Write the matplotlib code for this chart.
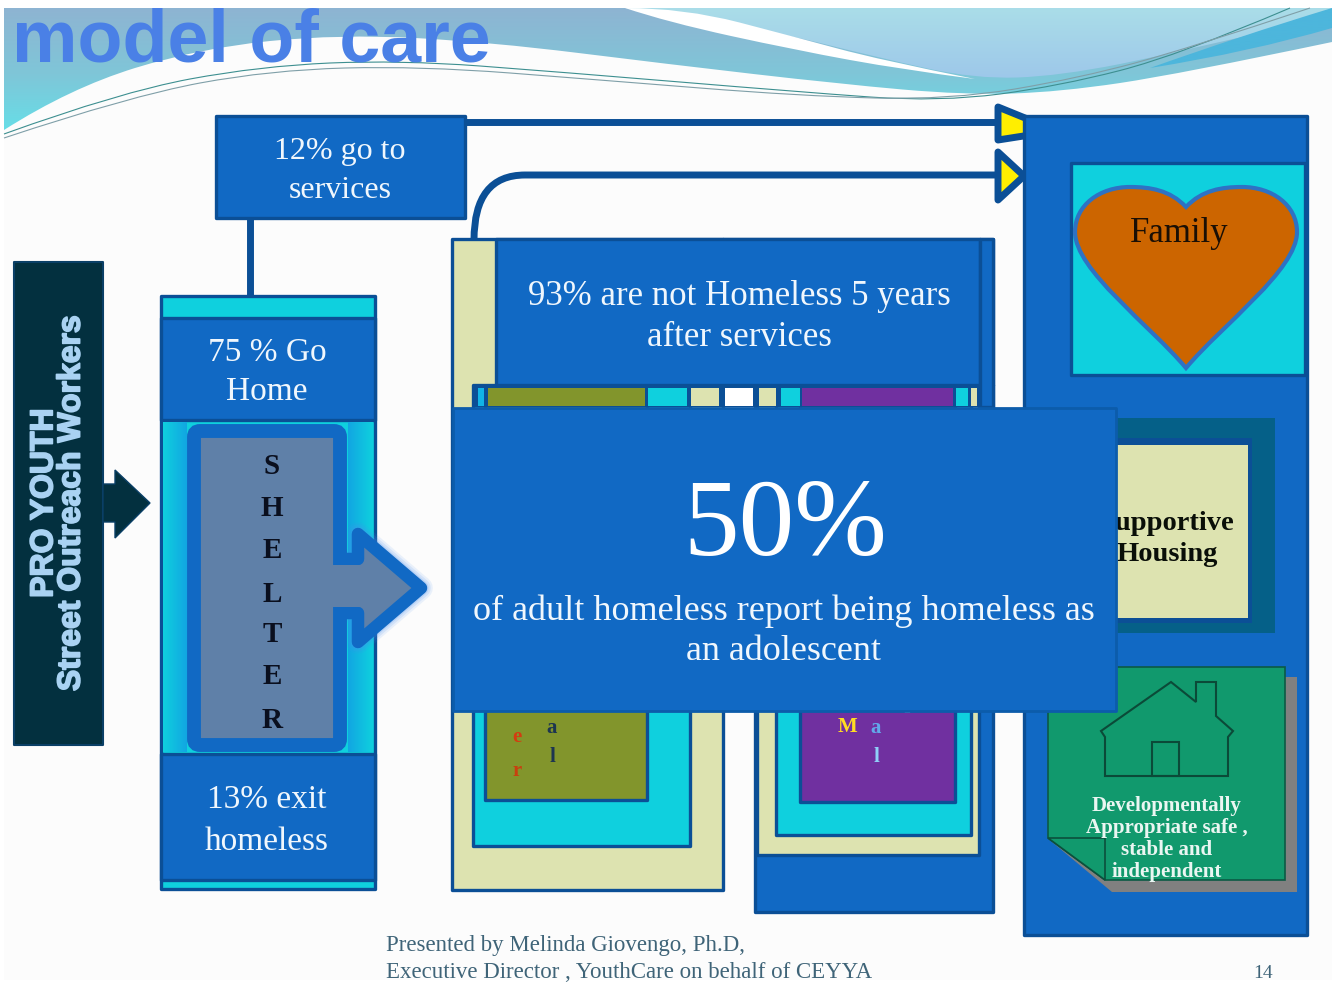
import numpy as np
import matplotlib
matplotlib.use('Agg')
import matplotlib.pyplot as plt
import matplotlib.patheffects as pe
from matplotlib.colors import LinearSegmentedColormap
from matplotlib.patches import Rectangle, Polygon, PathPatch, FancyBboxPatch
from matplotlib.path import Path

# slide text
title = "model of care"
side_label = "PRO YOUTH\nStreet Outreach Workers"
services_label = "12% go to\nservices"
go_home_label = "75 % Go\nHome"
exit_label = "13% exit\nhomeless"
shelter_letters = ["S", "H", "E", "L", "T", "E", "R"]
not_homeless_label = "93% are not Homeless 5 years\nafter services"
big_number = "50%"
big_caption = "of adult homeless report being homeless as\nan adolescent"
family_label = "Family"
supportive_label = "Supportive\nHousing"
note_label = ["Developmentally", "Appropriate safe ,", "stable and", "independent"]
footer = ["Presented by Melinda Giovengo, Ph.D,",
          "Executive Director , YouthCare on behalf of CEYYA"]
page_number = "14"

SERIF = 'Liberation Serif'
SANS = 'Liberation Sans'
BLUE = '#1169c4'
EDGE = '#0b4f96'
CYAN = '#0fd0de'
PALE = '#dde3b0'
OLIVE = '#82952c'
PURPLE = '#7030a0'
WHITE_TXT = '#f0f7fd'

W, H = 1334, 982
fig = plt.figure(figsize=(W / 100, H / 100), dpi=100, facecolor='white')
ax = fig.add_axes([0, 0, 1, 1])
ax.set_axis_off()


def box(x0, y0, x1, y1, fc, ec=EDGE, lw=2.4, z=2):
    r = Rectangle((x0, y0), x1 - x0, y1 - y0, fc=fc, ec=ec, lw=lw, zorder=z,
                  joinstyle='round')
    ax.add_patch(r)
    return r


def smooth(pts):
    # quadratic spline through the midpoints of the control polygon
    verts = [pts[0]]
    codes = [Path.MOVETO]
    for i in range(1, len(pts) - 1):
        mid = ((pts[i][0] + pts[i + 1][0]) / 2, (pts[i][1] + pts[i + 1][1]) / 2)
        if i == len(pts) - 2:
            mid = pts[-1]
        verts += [pts[i], mid]
        codes += [Path.CURVE3, Path.CURVE3]
    return verts, codes


def band(top, bottom, colors, z=1):
    # closed shape between two curves, filled with a vertical gradient
    v1, c1 = smooth(top)
    v2, c2 = smooth(bottom[::-1])
    c2[0] = Path.LINETO
    path = Path(v1 + v2 + [v1[0]], c1 + c2 + [Path.CLOSEPOLY])
    cmap = LinearSegmentedColormap.from_list('g', colors)
    grad = np.linspace(0, 1, 256)[:, None]
    im = ax.imshow(grad, cmap=cmap, extent=(0, W, 140, 8), aspect='auto', zorder=z)
    patch = PathPatch(path, fc='none', ec='none', transform=ax.transData)
    ax.add_patch(patch)
    im.set_clip_path(patch)


def hgrad(x0, y0, x1, y1, c0, c1, z=2.1):
    # rectangle shaded from left to right
    cmap = LinearSegmentedColormap.from_list('h', [c0, c1])
    ax.imshow(np.linspace(0, 1, 64)[None, :], cmap=cmap, extent=(x0, x1, y1, y0),
              aspect='auto', zorder=z)


def label(x, y, s, size, color=WHITE_TXT, family=SERIF, weight='normal', z=5, **kw):
    return ax.text(x, y, s, fontsize=size, color=color, family=family, weight=weight,
                   ha=kw.pop('ha', 'center'), va=kw.pop('va', 'center'), zorder=z, **kw)


# page background
ax.add_patch(Rectangle((4, 8), 1328, 972, fc='#fcfcfc', ec='none', zorder=0))

# wave banner across the top
band([(4, 8), (625, 8), (1332, 8)],
     [(4, 130), (70, 88), (200, 48), (340, 34), (490, 42), (667, 64), (840, 84), (965, 95),
      (1060, 92), (1180, 74), (1332, 42)],
     ['#8eb4d2', '#7fc6d8', '#62e2ea'])
band([(625, 8), (700, 8), (1332, 8)],
     [(625, 8), (760, 28), (880, 58), (975, 79), (1060, 76), (1180, 52), (1332, 16)],
     ['#aadde8', '#9ec9ea', '#8cc0ee'])
band([(1150, 68), (1240, 36), (1332, 8)],
     [(1150, 68), (1250, 52), (1332, 28)],
     ['#4db6dc', '#4db6dc'], z=1.2)
# white streak between the two blue waves
band([(625, 8), (684, 8), (795, 37), (880, 60), (975, 79)],
     [(625, 8), (667, 22), (795, 50), (905, 70), (975, 79)],
     ['#ffffff', '#ffffff'], z=1.4)

for pts, col in [([(4, 134), (120, 92), (260, 66), (400, 60), (560, 72), (800, 92), (940, 102),
                   (1060, 86), (1180, 55), (1290, 8)], '#3d8f90'),
                 ([(4, 138), (130, 96), (270, 70), (420, 66), (600, 80), (800, 96), (950, 100),
                   (1080, 78), (1190, 48), (1310, 8)], '#7f9fa8')]:
    v, c = smooth(pts)
    ax.add_patch(PathPatch(Path(v, c), fc='none', ec=col, lw=0.8, zorder=1.6))

t = label(12, 61, title, 53, color='#4a80e6', family=SANS, weight='bold', ha='left', va='baseline')
t.set_clip_path(Rectangle((0, 8), W, 100, transform=ax.transData))

# street outreach column
box(14, 262, 103, 745, '#03303f', ec='#0a3f66', lw=1.5)
ax.add_patch(Polygon([(103, 484), (115, 484), (115, 470), (150, 503), (115, 538), (115, 522), (103, 522)],
                     fc='#03303f', ec='#0a3f66', lw=1, zorder=2))
side = label(58, 503, side_label, 23, color='#a9d2f2', family=SANS, weight='bold', rotation=90,
             linespacing=0.88, multialignment='center')
side.set_path_effects([pe.withStroke(linewidth=1.2, foreground='#a9d2f2')])

# connectors from the services box
ax.plot([250, 250], [219, 296], color=EDGE, lw=5, solid_capstyle='butt', zorder=1.8)
ax.plot([465, 996], [122, 122], color=EDGE, lw=5, solid_capstyle='butt', zorder=1.8)
ax.add_patch(PathPatch(Path([(474, 240), (474, 175), (525, 175), (996, 175)],
                            [Path.MOVETO, Path.CURVE3, Path.CURVE3, Path.LINETO]),
                       fc='none', ec=EDGE, lw=5, zorder=1.8))
box(216, 116, 465, 218, BLUE)
label(340, 171, services_label, 23, linespacing=1.45)

# arrow heads into the outcomes panel
ax.add_patch(Polygon([(998, 107), (1030, 120), (1030, 135), (998, 140)], fc='#ffee00', ec=EDGE, lw=5,
                     joinstyle='round', zorder=1.9))
ax.add_patch(Polygon([(998, 152), (1024, 176), (998, 200)], fc='#ffee00', ec=EDGE, lw=5,
                     joinstyle='round', zorder=1.9))

# shelter column
box(161, 296, 375, 889, CYAN)
hgrad(163, 422, 187, 752, CYAN, '#12a6e2')
hgrad(348, 422, 373, 752, '#12a6e2', CYAN)
box(161, 318, 375, 420, BLUE)
box(161, 754, 375, 880, BLUE)
label(267, 372, go_home_label, 24, linespacing=1.38)
label(267, 821, exit_label, 24, linespacing=1.5)

# shelter arrow, with a soft glow round the head
head = [(337, 559), (358, 559), (358, 534), (421, 588), (358, 642), (358, 613), (337, 613)]
for lw, alpha in [(17, 0.10), (14, 0.14), (11, 0.2)]:
    ax.add_patch(Polygon(head, fc='none', ec='#4a8ff0', lw=lw, alpha=alpha, joinstyle='round', zorder=2.2))
ax.add_patch(Polygon(head, fc='#5f80a8', ec='#1169c4', lw=9, joinstyle='round', zorder=2.3))
ax.add_patch(FancyBboxPatch((194, 431), 146, 314, boxstyle='round,pad=0,rounding_size=6',
                            fc='#5f80a8', ec='#1169c4', lw=10, zorder=2.4))
ax.add_patch(Rectangle((330, 565), 32, 42, fc='#5f80a8', ec='none', zorder=2.5))
for letter, y in zip(shelter_letters, [466, 509, 551, 594, 634, 677, 720]):
    label(272, y, letter, 21, color='#0a0f1e', weight='bold')

# middle panels
box(452, 239, 723, 890, PALE)
box(723, 239, 993, 385, PALE)
box(473, 385, 690, 846, CYAN)
box(485, 388, 647, 800, OLIVE)
box(755, 385, 993, 912, BLUE)
box(757, 385, 979, 855, PALE)
box(776, 385, 971, 835, CYAN)
box(800, 388, 955, 802, PURPLE)
box(980, 239, 993, 407, BLUE, z=2.5)
box(496, 239, 980, 385, BLUE)
box(474, 385, 978, 407, EDGE, lw=0, z=2.6)
# colour strip under the upper box
for x0, x1, col in [(478, 484, '#11b4e6'), (488, 645, OLIVE), (648, 687, CYAN), (691, 719, PALE),
                    (725, 753, '#ffffff'), (759, 776, PALE), (781, 800, CYAN), (802, 953, PURPLE),
                    (956, 968, CYAN), (971, 977, PALE)]:
    box(x0, 388, x1, 406, col, lw=0, z=2.7)
label(739, 317, not_homeless_label, 25, linespacing=1.34)

# letters on the coloured cards, mostly covered by the centre panel
for x, y, s, col in [(517, 737, 'e', '#d43c10'), (517, 771, 'r', '#c8400f'), (552, 728, 'a', '#1d3550'),
                     (552, 757, 'l', '#1d3550'), (848, 727, 'M', '#ffdd22'), (876, 728, 'a', '#62a8ea'),
                     (876, 757, 'l', '#8fd0f8'), (907, 712, '-', '#e0d8f8')]:
    label(x, y, s, 15, color=col, weight='bold', z=3)

# outcomes panel
box(1024, 116, 1307, 935, BLUE)
box(1071, 163, 1305, 375, CYAN)
heart_v = [(1186, 207),
           (1170, 190), (1150, 187), (1130, 187),
           (1100, 187), (1075, 205), (1075, 232),
           (1075, 270), (1150, 325), (1186, 368),
           (1222, 325), (1297, 270), (1297, 232),
           (1297, 205), (1272, 187), (1242, 187),
           (1222, 187), (1202, 190), (1186, 207),
           (1186, 207)]
heart_c = [Path.MOVETO] + [Path.CURVE4] * 18 + [Path.CLOSEPOLY]
ax.add_patch(PathPatch(Path(heart_v, heart_c), fc='#cc6500', ec='#2e72c4', lw=3, zorder=3))
label(1179, 233, family_label, 25, color='#1a0f05', z=4)

box(1108, 418, 1275, 633, '#056088', ec='#056088', lw=0, z=3)
box(1100, 438, 1252, 623, EDGE, lw=0, z=3)
box(1100, 445, 1248, 618, PALE, lw=0, z=3)
label(1167, 539, supportive_label, 20.5, color='#0a0f08', weight='bold', z=3.2, linespacing=1.34)

# folded note with the house on it
ax.add_patch(Polygon([(1052, 842), (1060, 677), (1297, 677), (1297, 892), (1112, 892)],
                     fc='#808080', ec='none', zorder=3))
ax.add_patch(Polygon([(1048, 667), (1285, 667), (1285, 880), (1105, 880), (1048, 838)],
                     fc='#11996d', ec='#0b5a45', lw=1.2, zorder=3.1))
ax.add_patch(Polygon([(1048, 838), (1105, 838), (1105, 880)], fc='#11996d', ec='#0b4f3c', lw=1.2, zorder=3.2))
house = [(1105, 776), (1105, 737), (1101, 731), (1171, 682), (1196, 702), (1196, 682), (1216, 682),
         (1216, 716), (1233, 731), (1228, 737), (1228, 776)]
ax.add_patch(Polygon(house, closed=True, fc='none', ec='#0b4a38', lw=1.5, zorder=3.3))
ax.add_patch(Rectangle((1152, 742), 27, 34, fc='none', ec='#0b4a38', lw=1.5, zorder=3.3))
for line, y in zip(note_label, [806, 828, 850, 872]):
    label(1167, y, line, 15, color='#eaf6f2', weight='bold', z=3.4)

# centre call-out sits above everything else
box(453, 408, 1116, 711, BLUE, ec='#0c5cab', lw=2, z=4)
label(785, 528, big_number, 80, color='#ffffff', z=5)
label(784, 631, big_caption, 26, linespacing=1.28, z=5)

# footer
label(386, 946, footer[0], 16.5, color='#3f6478', ha='left')
label(386, 973, footer[1], 16.5, color='#3f6478', ha='left')
label(1263, 973, page_number, 14, color='#3f6478')

ax.set_xlim(0, W)
ax.set_ylim(H, 0)
fig.savefig('out.png', dpi=100, facecolor='white')
